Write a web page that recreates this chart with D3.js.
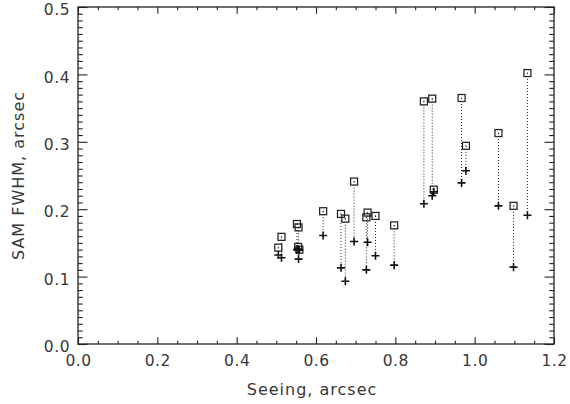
<!DOCTYPE html>
<html>
<head>
<meta charset="utf-8">
<script src="https://cdn.jsdelivr.net/npm/d3@7"></script>
<style>
  html, body { margin: 0; padding: 0; background: #fff; }
  svg { display: block; }
</style>
</head>
<body>
<div id="chart"></div>
<script>
// seeing vs SAM FWHM: square = SAM, plus = second estimate, joined by a dotted line
const seeing  = [0.505, 0.513, 0.552, 0.556, 0.555, 0.558, 0.618, 0.663, 0.674, 0.696, 0.727, 0.730, 0.750, 0.797,
                 0.872, 0.893, 0.897, 0.967, 0.978, 1.060, 1.098, 1.133];
const samFwhm = [0.143, 0.159, 0.178, 0.173, 0.144, 0.140, 0.197, 0.193, 0.186, 0.241, 0.188, 0.195, 0.190, 0.176,
                 0.360, 0.364, 0.229, 0.365, 0.294, 0.313, 0.205, 0.402];
const plusVal = [0.132, 0.128, 0.140, 0.126, 0.141, 0.139, 0.161, 0.113, 0.093, 0.152, 0.110, 0.151, 0.131, 0.117,
                 0.208, 0.220, 0.226, 0.239, 0.257, 0.205, 0.114, 0.191];
const xTicks = [0.0, 0.2, 0.4, 0.6, 0.8, 1.0, 1.2];
const yTicks = [0.0, 0.1, 0.2, 0.3, 0.4, 0.5];

const W = 570, H = 404;
const plotL = 78, plotR = 554, plotT = 7, plotB = 344;
const ink = "#222";
const textInk = "#383838";
const font = "DejaVu Sans, sans-serif";

const svg = d3.select("#chart").append("svg").attr("width", W).attr("height", H);

const x = d3.scaleLinear().domain([0, 1.2]).range([plotL, plotR]);
const y = d3.scaleLinear().domain([0, 0.5]).range([plotB, plotT]);

const pw = plotR - plotL, ph = plotB - plotT;
const xMajor = 0.02 * ph, yMajor = 0.02 * pw;

// minor tick values
const xMinor = d3.range(0, 1.2001, 0.05).filter(v => Math.abs(v / 0.2 - Math.round(v / 0.2)) > 1e-6);
const yMinor = d3.range(0, 0.5001, 0.01).filter(v => Math.abs(v / 0.1 - Math.round(v / 0.1)) > 1e-6);

function styleAxis(g) {
  g.select(".domain").remove();
  g.selectAll(".tick line").attr("stroke", ink).attr("stroke-width", 1.1);
  g.selectAll(".tick text").attr("fill", textInk).attr("font-size", 15.5).attr("font-family", font)
    .attr("letter-spacing", 0.5);
}

// bottom axis with labels
svg.append("g").attr("transform", `translate(0,${plotB})`)
  .call(d3.axisBottom(x).tickValues(xTicks).tickFormat(d3.format(".1f")).tickSizeInner(-xMajor).tickSizeOuter(0).tickPadding(11))
  .call(styleAxis);
svg.append("g").attr("transform", `translate(0,${plotB})`)
  .call(d3.axisBottom(x).tickValues(xMinor).tickFormat("").tickSizeInner(-xMajor / 2).tickSizeOuter(0))
  .call(styleAxis);
// top axis, ticks only
svg.append("g").attr("transform", `translate(0,${plotT})`)
  .call(d3.axisTop(x).tickValues(xTicks).tickFormat("").tickSizeInner(-xMajor).tickSizeOuter(0))
  .call(styleAxis);
svg.append("g").attr("transform", `translate(0,${plotT})`)
  .call(d3.axisTop(x).tickValues(xMinor).tickFormat("").tickSizeInner(-xMajor / 2).tickSizeOuter(0))
  .call(styleAxis);

// left axis with labels
svg.append("g").attr("transform", `translate(${plotL},0)`)
  .call(d3.axisLeft(y).tickValues(yTicks).tickFormat(d3.format(".1f")).tickSizeInner(-yMajor).tickSizeOuter(0).tickPadding(8))
  .call(styleAxis)
  .call(g => g.selectAll(".tick text").attr("dy", "0.5em"));
svg.append("g").attr("transform", `translate(${plotL},0)`)
  .call(d3.axisLeft(y).tickValues(yMinor).tickFormat("").tickSizeInner(-yMajor / 2).tickSizeOuter(0))
  .call(styleAxis);
// right axis, ticks only
svg.append("g").attr("transform", `translate(${plotR},0)`)
  .call(d3.axisRight(y).tickValues(yTicks).tickFormat("").tickSizeInner(-yMajor).tickSizeOuter(0))
  .call(styleAxis);
svg.append("g").attr("transform", `translate(${plotR},0)`)
  .call(d3.axisRight(y).tickValues(yMinor).tickFormat("").tickSizeInner(-yMajor / 2).tickSizeOuter(0))
  .call(styleAxis);

// frame
svg.append("rect")
  .attr("x", plotL).attr("y", plotT).attr("width", pw).attr("height", ph)
  .attr("fill", "none").attr("stroke", ink).attr("stroke-width", 1.3);

// axis titles
svg.append("text")
  .attr("x", (plotL + plotR) / 2 - 4).attr("y", 395)
  .attr("text-anchor", "middle").attr("font-family", font).attr("font-size", 16)
  .attr("letter-spacing", 1).attr("fill", textInk)
  .text("Seeing, arcsec");
svg.append("text")
  .attr("transform", `translate(24,${(plotT + plotB) / 2}) rotate(-90)`)
  .attr("text-anchor", "middle").attr("font-family", font).attr("font-size", 16)
  .attr("letter-spacing", 1).attr("fill", textInk)
  .text("SAM FWHM, arcsec");

const pts = seeing.map((s, i) => ({ s, sam: samFwhm[i], p: plusVal[i] }));

// dotted connectors
svg.append("g").selectAll("line").data(pts).join("line")
  .attr("x1", d => x(d.s)).attr("x2", d => x(d.s))
  .attr("y1", d => y(d.sam)).attr("y2", d => y(d.p))
  .attr("stroke", ink).attr("stroke-width", 1).attr("stroke-dasharray", "1,2");

// squares with a centre dot
const sq = 7;
const sqG = svg.append("g");
sqG.selectAll("rect").data(pts).join("rect")
  .attr("x", d => x(d.s) - sq / 2).attr("y", d => y(d.sam) - sq / 2)
  .attr("width", sq).attr("height", sq)
  .attr("fill", "none").attr("stroke", ink).attr("stroke-width", 1.25);
sqG.selectAll("circle").data(pts).join("circle")
  .attr("cx", d => x(d.s)).attr("cy", d => y(d.sam)).attr("r", 0.6).attr("fill", ink);

// plus markers
const ps = 4;
svg.append("g").selectAll("path").data(pts).join("path")
  .attr("d", d => {
    const cx = x(d.s), cy = y(d.p);
    return `M${cx - ps},${cy}H${cx + ps}M${cx},${cy - ps}V${cy + ps}`;
  })
  .attr("stroke", "#111").attr("stroke-width", 1.6).attr("fill", "none");
</script>
</body>
</html>
